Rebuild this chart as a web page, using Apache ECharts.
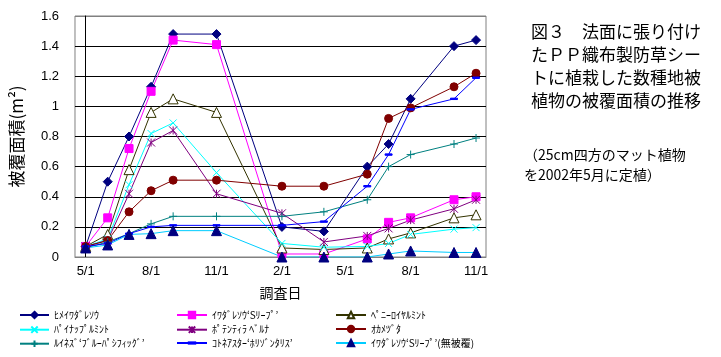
<!DOCTYPE html>
<html><head><meta charset="utf-8">
<script src="https://cdn.jsdelivr.net/npm/echarts@6/dist/echarts.min.js"></script>
<style>html,body{margin:0;padding:0;background:#fff}#c{width:721px;height:357px}</style>
</head><body><div id="c"></div>
<script>
const dates = ['2002-05-01','2002-06-01','2002-07-01','2002-08-01','2002-09-01','2002-11-01','2003-02-01','2003-04-01','2003-06-01','2003-07-01','2003-08-01','2003-10-01','2003-11-01'];
const tickDates = ['2002-05-01','2002-08-01','2002-11-01','2003-02-01','2003-05-01','2003-08-01','2003-11-01'];
const tickLabels = ['5/1','8/1','11/1','2/1','5/1','8/1','11/1'];
const axisStart = '2002-04-16';
const axisEnd = '2003-11-15';
const names = ['ﾋﾒｲﾜﾀﾞﾚｿｳ','ｲﾜﾀﾞﾚｿｳ‘Sﾘｰﾌﾟ’','ﾍﾟﾆｰﾛｲﾔﾙﾐﾝﾄ','ﾊﾟｲﾅｯﾌﾟﾙﾐﾝﾄ','ﾎﾟﾃﾝﾃｨﾗ ﾍﾞﾙﾅ','ｵｶﾒﾂﾞﾀ','ﾙｲﾈｽﾞ‘ﾌﾞﾙｰﾊﾟｼﾌｨｯｸﾞ’','ｺﾄﾈｱｽﾀｰ‘ﾎﾘｿﾞﾝﾀﾘｽ’','ｲﾜﾀﾞﾚｿｳ‘Sﾘｰﾌﾟ’(無被覆)'];
const s1 = [0.07,0.50,0.80,1.13,1.48,1.48,0.20,0.17,0.60,0.75,1.05,1.40,1.44];
const s2 = [0.07,0.26,0.72,1.10,1.44,1.41,0.02,0.02,0.12,0.23,0.26,0.38,0.40];
const s3 = [0.07,0.15,0.58,0.96,1.05,0.96,0.06,0.05,0.06,0.12,0.16,0.26,0.28];
const s4 = [0.07,0.12,0.48,0.82,0.89,0.56,0.09,0.065,0.07,0.09,0.15,0.185,0.195];
const s5 = [0.07,0.11,0.42,0.76,0.84,0.42,0.29,0.10,0.14,0.19,0.245,0.32,0.38];
const s6 = [0.07,0.11,0.30,0.44,0.51,0.51,0.47,0.47,0.55,0.92,0.99,1.13,1.22];
const s7 = [0.06,0.10,0.155,0.22,0.27,0.27,0.27,0.30,0.38,0.60,0.68,0.75,0.79];
const s8 = [0.07,0.09,0.155,0.20,0.21,0.21,0.21,0.235,0.47,0.68,0.98,1.05,1.19];
const s9 = [0.06,0.08,0.15,0.155,0.175,0.175,0.0,0.0,0.0,0.02,0.04,0.03,0.03];
const titleLines = ['図３　法面に張り付け','たＰＰ織布製防草シー','トに植栽した数種地被','植物の被覆面積の推移'];
const noteLines = ['（25cm四方のマット植物','を2002年5月に定植）'];

const DAY = 86400000;
const t0 = Date.UTC(2002,4,1);
function day(s){const p=s.split('-').map(Number);return Math.round((Date.UTC(p[0],p[1]-1,p[2])-t0)/DAY);}
const xs = dates.map(day);
const tickDays = tickDates.map(day);

const styles = [
  {line:'#000080', sym:'diamond', size:9, fill:'#000080', border:'#000080'},
  {line:'#FF00FF', sym:'rect', size:8, fill:'#FF00FF', border:'#FF00FF'},
  {line:'#333300', sym:'triangle', size:10, fill:'#FFFFFF', border:'#333300'},
  {line:'#00FFFF', sym:'path://M0,0L10,10M10,0L0,10', size:7, fill:'none', border:'#00FFFF'},
  {line:'#800080', sym:'path://M0,0L10,10M10,0L0,10M5,0L5,10', size:8, fill:'none', border:'#800080'},
  {line:'#800000', sym:'circle', size:8, fill:'#800000', border:'#800000'},
  {line:'#008080', sym:'path://M5,0L5,10M0,5L10,5', size:8, fill:'none', border:'#008080'},
  {line:'#0000FF', sym:'path://M0,0L0,0M10,10L10,10M0,4L10,4L10,6L0,6Z', size:7, fill:'#0000FF', border:'#0000FF'},
  {line:'#00CCFF', sym:'triangle', size:10, fill:'#000080', border:'#000080'}
];
const vals = [s1,s2,s3,s4,s5,s6,s7,s8,s9];
const series = vals.map((v,i)=>({
  name:names[i], type:'line', data:v.map((y,j)=>[xs[j],y]),
  symbol:styles[i].sym, symbolSize:styles[i].size, showAllSymbol:true,
  lineStyle:{color:styles[i].line,width:1},
  itemStyle:{color:styles[i].fill,borderColor:styles[i].border,borderWidth:1},
  emphasis:{disabled:true}
}));
const legFont = {fontSize:10, color:'#000', fontFamily:'Noto Sans CJK JP', lineHeight:10};
const legCols = [19,176,335];
const legRows = [310,324,338];
const legends = names.map((n,i)=>({
  left:legCols[i%3], top:legRows[Math.floor(i/3)], padding:0,
  itemWidth:i%3===0?29:30, itemHeight:8, textStyle:legFont, data:[n], selectedMode:false
}));

const chart = echarts.init(document.getElementById('c'),null,{renderer:'canvas'});
chart.setOption({
  animation:false,
  backgroundColor:'#fff',
  title:[
    {text:titleLines.join('\n'),left:531,top:20,padding:0,textStyle:{fontSize:17,fontWeight:'normal',color:'#000',lineHeight:23,fontFamily:'Noto Sans CJK JP'}},
    {text:noteLines.join('\n'),left:524,top:145,padding:0,textStyle:{fontSize:14,fontWeight:'normal',color:'#000',lineHeight:20,fontFamily:'Noto Sans CJK JP'}}
  ],
  legend:legends,
  grid:{left:69,right:235,top:16,bottom:100,show:true,borderColor:'#808080',borderWidth:1},
  xAxis:{type:'value',min:day(axisStart),max:day(axisEnd),
    name:'調査日',nameLocation:'middle',nameGap:29,nameTextStyle:{fontSize:14,color:'#000',fontFamily:'Noto Sans CJK JP'},
    axisLine:{show:true,lineStyle:{color:'#808080'}},axisTick:{show:false},splitLine:{show:false},
    axisLabel:{customValues:tickDays,color:'#000',fontSize:13,margin:8,fontFamily:'Liberation Sans',
      formatter:(v)=>{const k=tickDays.indexOf(v);return k>=0?tickLabels[k]:'';}}},
  yAxis:{type:'value',min:0,max:1.6,interval:0.2,
    name:'被覆面積(m²)',nameLocation:'middle',nameGap:50,nameTextStyle:{fontSize:17,color:'#000',fontFamily:'Noto Sans CJK JP'},
    axisLine:{show:true,lineStyle:{color:'#000'}},axisTick:{show:false},
    splitLine:{show:true,lineStyle:{color:['#808080','#000','#000','#000','#000','#000','#000','#000','#808080'],width:1}},
    axisLabel:{color:'#000',fontSize:13,margin:16,fontFamily:'Liberation Sans'}},
  series:series
});
</script></body></html>
